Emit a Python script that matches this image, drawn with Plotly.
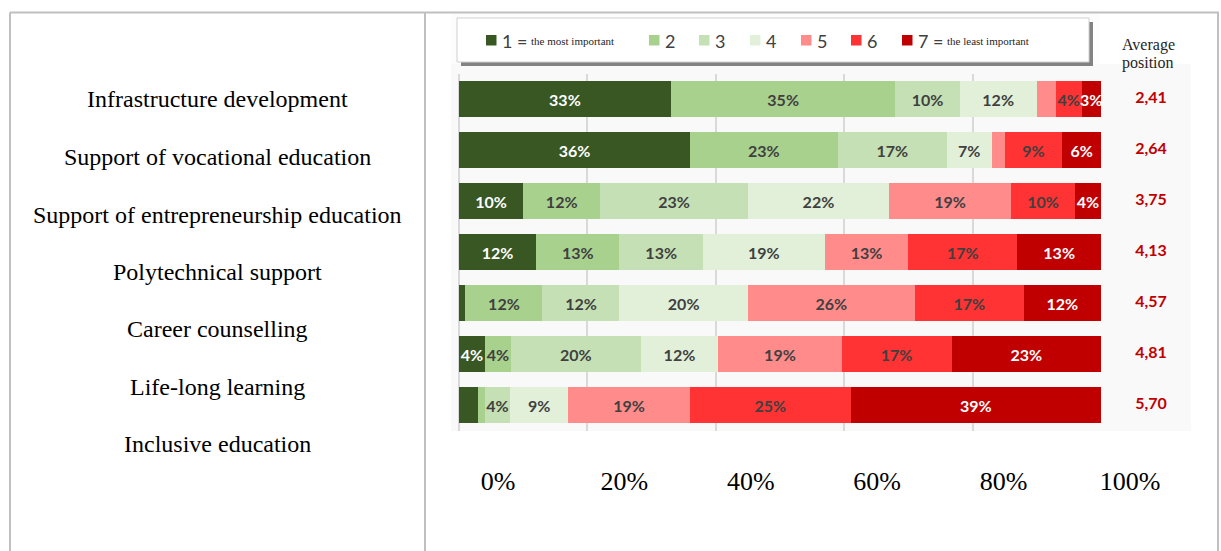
import plotly.graph_objects as go

# --- data -------------------------------------------------------------
areas = [
    "Infrastructure development",
    "Support of vocational education",
    "Support of entrepreneurship education",
    "Polytechnical support",
    "Career counselling",
    "Life-long learning",
    "Inclusive education",
]
# share of respondents (%) giving each rank, per area (bar rows top to bottom)
rank1 = [33, 36, 10, 12, 1, 4, 3]
rank2 = [35, 23, 12, 13, 12, 4, 1]
rank3 = [10, 17, 23, 13, 12, 20, 4]
rank4 = [12, 7, 22, 19, 20, 12, 9]
rank5 = [3, 2, 19, 13, 26, 19, 19]
rank6 = [4, 9, 10, 17, 17, 17, 25]
rank7 = [3, 6, 4, 13, 12, 23, 39]
avg_position = ["2,41", "2,64", "3,75", "4,13", "4,57", "4,81", "5,70"]
rank_names = ["1", "2", "3", "4", "5", "6", "7"]
tick_vals = [0, 20, 40, 60, 80, 100]
tick_text = ["0%", "20%", "40%", "60%", "80%", "100%"]

series = [rank1, rank2, rank3, rank4, rank5, rank6, rank7]
colors = ["#385723", "#a9d18e", "#c5e0b4", "#e2f0d9", "#ff8b8b", "#ff3333", "#c00000"]
text_colors = ["#ffffff", "#404040", "#404040", "#404040", "#404040", "#404040", "#ffffff"]
# segments too narrow to carry a label: (rank index, row index)
hidden = {(4, 0), (4, 1), (0, 4), (0, 6), (1, 6)}

W, H = 1221, 551


def px(x):
    return x / W


def py(y):
    return 1 - y / H


SERIF = "Liberation Serif, Times New Roman, serif"
SANS = "Lato, Carlito, Calibri, sans-serif"

fig = go.Figure()

for k, vals in enumerate(series):
    labels = ["" if (k, i) in hidden else f"{v}%" for i, v in enumerate(vals)]
    fig.add_trace(go.Bar(
        x=vals, y=areas, orientation="h", name=rank_names[k],
        marker=dict(color=colors[k], line=dict(width=0)),
        text=labels, textposition="inside", insidetextanchor="middle",
        textangle=0,
        textfont=dict(family=SANS, size=16, color=text_colors[k], weight="bold"),
        hoverinfo="skip", showlegend=False,
    ))

# average position column on its own narrow axis right of the bars
fig.add_trace(go.Scatter(
    x=[0.5] * len(areas), y=areas, xaxis="x3", yaxis="y",
    mode="text", text=avg_position,
    textfont=dict(family=SANS, size=16, color="#c00000", weight="bold"),
    hoverinfo="skip", showlegend=False,
))

# carrier for the serif percentage scale under the chart
fig.add_trace(go.Scatter(
    x=[tick_vals[0], tick_vals[-1]], y=[areas[0], areas[0]], xaxis="x2", yaxis="y",
    mode="markers", marker=dict(opacity=0), hoverinfo="skip", showlegend=False,
))

shapes = []
# light grey panel behind the chart
shapes.append(dict(type="rect", xref="paper", yref="paper", layer="below",
                   x0=px(451), x1=px(1191), y0=py(431), y1=py(64),
                   fillcolor="#f9f9f9", line=dict(width=0)))
shapes.append(dict(type="rect", xref="paper", yref="paper", layer="below",
                   x0=px(451), x1=px(1100), y0=py(64), y1=py(14),
                   fillcolor="#fcfcfc", line=dict(width=0)))
# table rules
rule = dict(color="#bfbfbf", width=2)
shapes.append(dict(type="line", xref="paper", yref="paper", x0=px(10), x1=px(1219),
                   y0=py(12.5), y1=py(12.5), line=rule))
for xv in (10, 425, 1218):
    shapes.append(dict(type="line", xref="paper", yref="paper", x0=px(xv), x1=px(xv),
                       y0=py(12.5), y1=py(551), line=rule))
# legend box with drop shadow
shapes.append(dict(type="rect", xref="paper", yref="paper", layer="above",
                   x0=px(461), x1=px(1093), y0=py(66), y1=py(22),
                   fillcolor="rgba(90,90,90,0.75)", line=dict(width=0)))
shapes.append(dict(type="rect", xref="paper", yref="paper", layer="above",
                   x0=px(457), x1=px(1089), y0=py(62), y1=py(18),
                   fillcolor="#ffffff", line=dict(color="#d0d0d0", width=1)))

annotations = []
legend_x = [486, 649, 699, 750, 801, 851, 902]
legend_desc = {0: "the most important", 6: "the least important"}
for k, x0 in enumerate(legend_x):
    shapes.append(dict(type="rect", xref="paper", yref="paper", layer="above",
                       x0=px(x0), x1=px(x0 + 10.5), y0=py(45.5), y1=py(35),
                       fillcolor=colors[k], line=dict(width=0)))
    lab = rank_names[k] + (" =" if k in legend_desc else "")
    annotations.append(dict(xref="paper", yref="paper", x=px(x0 + 14), y=py(40.5),
                            xanchor="left", yanchor="middle", showarrow=False,
                            text=lab, font=dict(family=SANS, size=18, color="#404040")))
    if k in legend_desc:
        annotations.append(dict(xref="paper", yref="paper", x=px(x0 + 43), y=py(40.5),
                                xanchor="left", yanchor="middle", showarrow=False,
                                text=legend_desc[k],
                                font=dict(family=SERIF, size=11, color="#262626")))

# column header
for word, yv in (("Average", 45), ("position", 63)):
    annotations.append(dict(xref="paper", yref="paper", x=px(1148), y=py(yv),
                            xanchor="center", yanchor="middle", showarrow=False,
                            text=word,
                            font=dict(family=SERIF, size=16, color="#262626")))

# row captions in the left column
caption_y = [99, 157, 215, 272, 329, 387, 444]
for name, yv in zip(areas, caption_y):
    annotations.append(dict(xref="paper", yref="paper", x=px(217), y=py(yv),
                            xanchor="center", yanchor="middle", showarrow=False,
                            text=name, font=dict(family=SERIF, size=24, color="#000000")))

fig.update_layout(
    width=W, height=H,
    margin=dict(l=0, r=0, t=0, b=0, autoexpand=False),
    paper_bgcolor="#ffffff", plot_bgcolor="rgba(0,0,0,0)",
    barmode="stack", barnorm="percent", bargap=0.31,
    uniformtext=dict(minsize=16, mode="show"),
    xaxis=dict(domain=[px(459), px(1101)], range=[0, 100.02], tickvals=tick_vals,
               showgrid=True, gridcolor="#d9d9d9", gridwidth=1.5,
               zeroline=True, zerolinecolor="#d9d9d9", zerolinewidth=1.5,
               showticklabels=False, ticks="", showline=False, fixedrange=True,
               automargin=False),
    xaxis2=dict(domain=[px(498), px(1130)], range=[0, 100], anchor="free",
                position=py(463), tickvals=tick_vals, ticktext=tick_text,
                showgrid=False, zeroline=False, showline=False, ticks="",
                tickfont=dict(family=SERIF, size=26, color="#000000"),
                automargin=False, fixedrange=True),
    xaxis3=dict(domain=[px(1111), px(1191)], range=[0, 1], anchor="y",
                visible=False, fixedrange=True, automargin=False),
    yaxis=dict(domain=[py(430.5), py(73.5)], categoryorder="array",
               categoryarray=areas, range=[6.5, -0.5],
               showticklabels=False, showgrid=False, zeroline=False, ticks="",
               fixedrange=True, automargin=False),
    shapes=shapes,
    annotations=annotations,
)

fig.write_html("out.html")
